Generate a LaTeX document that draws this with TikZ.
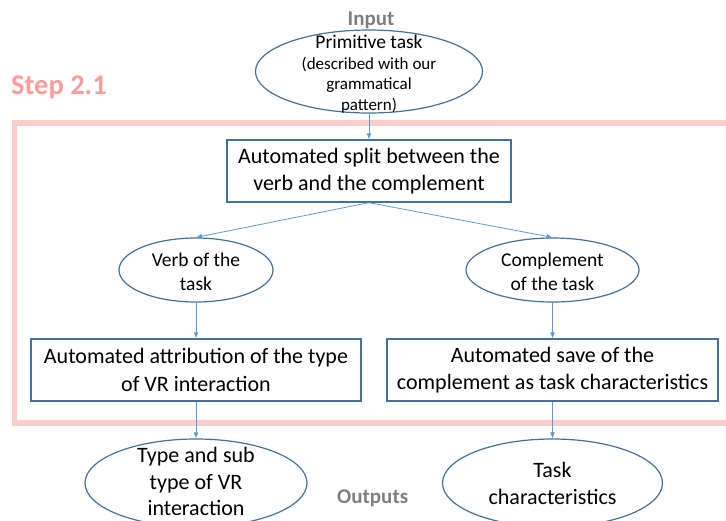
\documentclass[tikz,border=0pt]{standalone}
\usepackage{fontspec}
\setmainfont{Carlito}
\usetikzlibrary{arrows.meta,shapes.geometric}
\definecolor{ellc}{HTML}{41719C}
\definecolor{arrc}{HTML}{5B9BD5}
\definecolor{pinkf}{HTML}{FFCCCC}
\definecolor{pinkt}{HTML}{FF9B9B}
\definecolor{grayt}{HTML}{7F7F7F}
\begin{document}
\begin{tikzpicture}[x=1pt,y=-1pt,
  ellshape/.style={draw=ellc, line width=1.2pt, ellipse, inner sep=0pt},
  boxnode/.style={draw=ellc, line width=1.3pt, rectangle, inner sep=0pt, align=center, font=\fontsize{22}{27.5}\selectfont},
  txt/.style={align=center, inner sep=0pt},
  conn/.style={draw=arrc, line width=0.8pt, -{Latex[length=6pt,width=5pt]}},
  graylabel/.style={text=grayt, font=\bfseries\fontsize{21}{25}\selectfont, inner sep=0pt}
]
\useasboundingbox (0,0) rectangle (726,520);
\clip (0,0) rectangle (726,520);

% pink frame of step 2.1
\draw[pinkf, line width=5.5pt] (14.5,123) rectangle (745,423);
\node[text=pinkt, font=\bfseries\fontsize{28.5}{31}\selectfont, inner sep=0pt, anchor=base west] (steplbl) at (11,94) {Step 2.1};

% labels
\node[graylabel, anchor=base] (inputlbl) at (371,25) {Input};
\node[graylabel, anchor=base west] (outputlbl) at (337,503) {Outputs};

% input ellipse
\node[ellshape, minimum width=227pt, minimum height=83pt] (in) at (369,71.5) {};
\node[txt, font=\fontsize{17}{20.5}\selectfont] (intext) at (369,74) {{\fontsize{19.5}{22}\selectfont Primitive task}\\(described with our\\grammatical\\pattern)};

% split box
\node[boxnode, minimum width=284pt, minimum height=62pt] (split) at (369,171) {Automated split between the\\verb and the complement};

% middle ellipses
\node[ellshape, minimum width=154pt, minimum height=64pt] (verb) at (196,270) {};
\node[txt, font=\fontsize{19.5}{24}\selectfont] (verbtext) at (196,272) {Verb of the\\task};
\node[ellshape, minimum width=173pt, minimum height=64pt] (compl) at (552.5,270) {};
\node[txt, font=\fontsize{19.5}{24}\selectfont] (compltext) at (552.5,272) {Complement\\of the task};

% boxes
\node[boxnode, minimum width=330pt, minimum height=62pt] (attr) at (196,370) {Automated attribution of the type\\of VR interaction};
\node[boxnode, minimum width=331pt, minimum height=62pt] (save) at (552.5,370) {Automated save of the\\complement as task characteristics};

% output ellipses
\node[ellshape, minimum width=222pt, minimum height=88pt] (typeout) at (196,483) {};
\node[txt, font=\fontsize{22}{26.5}\selectfont] (typetext) at (196,481.5) {Type and sub\\type of VR\\interaction};
\node[ellshape, minimum width=220pt, minimum height=88pt] (charout) at (552.5,483) {};
\node[txt, font=\fontsize{22}{27}\selectfont] (chartext) at (552.5,483) {Task\\characteristics};

% connectors
\draw[conn] (in.south) -- (split.north);
\draw[conn] (split.south) -- (verb.north);
\draw[conn] (split.south) -- (compl.north);
\draw[conn] (verb.south) -- (attr.north);
\draw[conn] (compl.south) -- (save.north);
\draw[conn] (attr.south) -- (typeout.north);
\draw[conn] (save.south) -- (charout.north);
\end{tikzpicture}
\end{document}
